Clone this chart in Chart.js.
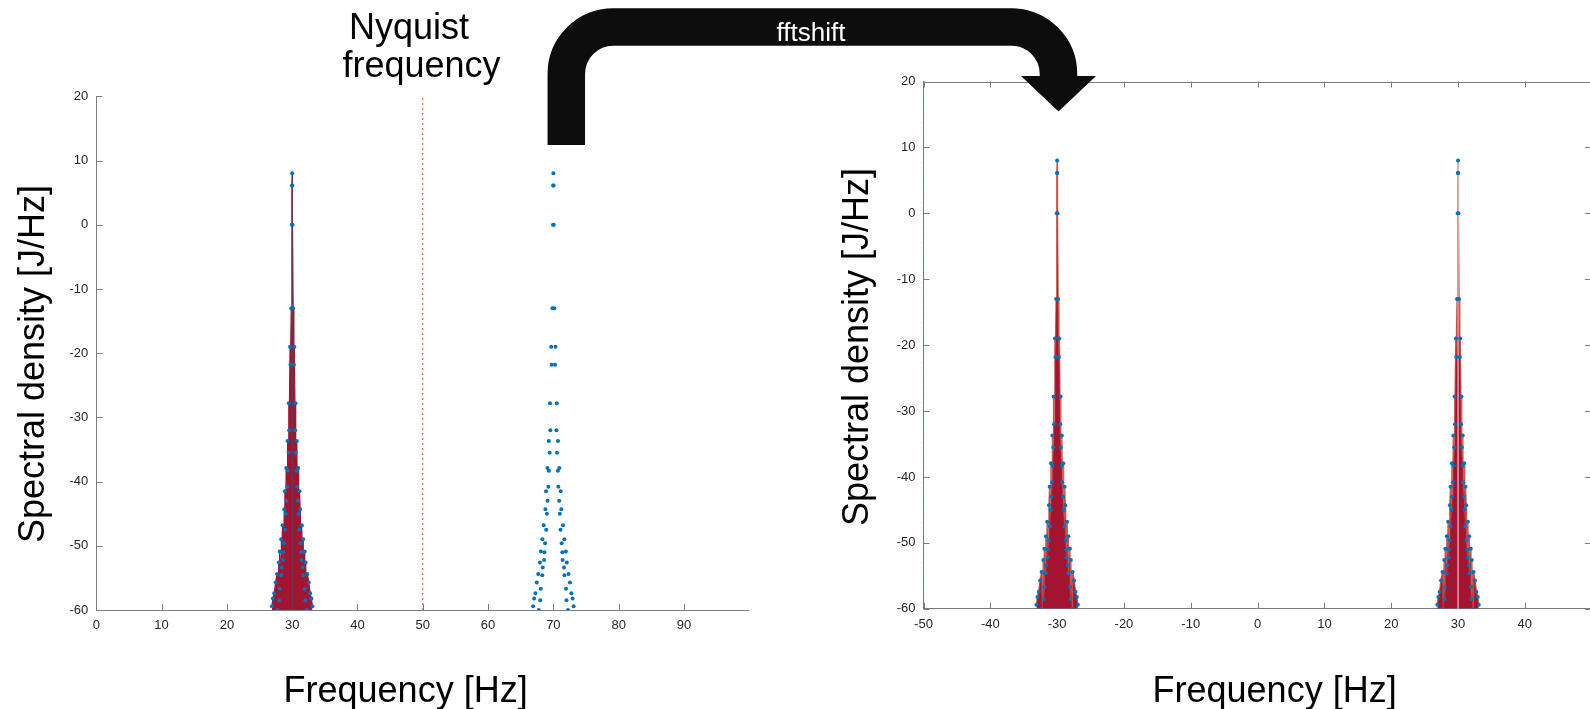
<!DOCTYPE html>
<html>
<head>
<meta charset="utf-8">
<title>fftshift</title>
<script src="https://cdn.jsdelivr.net/npm/chart.js@4.4.1/dist/chart.umd.min.js"></script>
<style>
  html, body { margin: 0; padding: 0; background: #fff; overflow: hidden; }
  #stage { position: relative; width: 1590px; height: 709px; overflow: hidden; background: #fff; }
  #stage canvas { position: absolute; top: 0; }
  #oneSided { left: 0; }
  #shifted { left: 800px; }
  #overlay { position: absolute; left: 0; top: 0; pointer-events: none; }
  #overlay text { font-family: 'Liberation Sans', Arial, Helvetica, sans-serif; }
</style>
</head>
<body>
<div id="stage">
  <canvas id="oneSided" width="800" height="709"></canvas>
  <canvas id="shifted" width="800" height="709"></canvas>
  <svg id="overlay" width="1590" height="709" viewBox="0 0 1590 709">
    <!-- bent arrow from the one-sided plot to the shifted plot -->
    <path d="M 566.3 145 L 566.3 74 A 47 47 0 0 1 613.3 27 L 1011.5 27 A 47 47 0 0 1 1058.5 74 L 1058.5 77"
          fill="none" stroke="#0d0d0d" stroke-width="37.5"/>
    <polygon points="1021,76 1096,76 1058.5,111.5" fill="#0d0d0d"/>
    <text x="811" y="40.5" font-size="26" fill="#fff" text-anchor="middle">fftshift</text>
    <text x="349" y="38.5" font-size="36" fill="#000">Nyquist</text>
    <text x="342.5" y="77" font-size="36" fill="#000">frequency</text>
    <!-- axis titles -->
    <text x="405.6" y="702" font-size="36" fill="#000" text-anchor="middle">Frequency [Hz]</text>
    <text x="1274.6" y="702" font-size="36" fill="#000" text-anchor="middle">Frequency [Hz]</text>
    <text x="44" y="364" font-size="36" fill="#000" text-anchor="middle" transform="rotate(-90 44 364)">Spectral density [J/Hz]</text>
    <text x="868" y="347" font-size="36" fill="#000" text-anchor="middle" transform="rotate(-90 868 347)">Spectral density [J/Hz]</text>
  </svg>
</div>
<script>
// Sampling setup
const sampleRate = 100;     // Hz
const freqStep = 0.1;       // Hz, bin spacing of the spectrum
const toneFreq = 30;        // Hz

// Tick labels
const levelTicks = [20, 10, 0, -10, -20, -30, -40, -50, -60];
const oneSidedTicks = [0, 10, 20, 30, 40, 50, 60, 70, 80, 90];
const shiftedTicks = [-50, -40, -30, -20, -10, 0, 10, 20, 30, 40];

// Samples of the tone's spectral peak above -60 dB:
// distance from the peak centre (Hz) and level (dB); the peak is symmetric
const peakOffsets = [0, 0.03, 0.06, 0.15, 0.26, 0.33, 0.46, 0.52, 0.56, 0.69, 0.71, 0.76,
  0.89, 0.92, 0.99, 1.10, 1.12, 1.22, 1.27, 1.37, 1.42, 1.48, 1.63, 1.68, 1.70, 1.91,
  1.93, 2.01, 2.06, 2.24, 2.32, 2.54, 2.75, 2.95, 3.10];
const peakLevels = [8.0, 6.1, 0.0, -13.0, -21.8, -19.0, -32.0, -27.8, -35.5, -38.3, -33.7, -40.8,
  -43.0, -37.9, -45.0, -47.5, -41.5, -44.3, -49.6, -51.0, -52.2, -46.8, -53.4, -49.0, -54.6, -50.9,
  -56.7, -58.5, -52.6, -60.0, -54.4, -55.7, -57.4, -58.2, -59.4];

const levelMin = -60, levelMax = 20;

const FONT = "'Liberation Sans', Arial, Helvetica, sans-serif";
const C_RED = '#A2142F', C_BLUE = '#0072BD', C_ORANGE = '#D95319';
const AXIS = '#7d7d7d', TEXT = '#262626';

// peak samples at a given centre frequency, sorted by frequency
function peakPoints(centre) {
  const lower = [];
  for (let i = peakOffsets.length - 1; i >= 1; i--) lower.push({ x: centre - peakOffsets[i], y: peakLevels[i] });
  const upper = peakOffsets.map((d, i) => ({ x: centre + d, y: peakLevels[i] }));
  return lower.concat(upper);
}

const tonePeak = peakPoints(toneFreq);                  // positive-frequency tone
const imagePeak = peakPoints(sampleRate - toneFreq);    // its mirror above Nyquist
const spectrum = tonePeak.concat(imagePeak);            // 0 … fs
const toShifted = p => ({ x: p.x >= sampleRate / 2 ? p.x - sampleRate : p.x, y: p.y });
const shiftedSpectrum = spectrum.map(toShifted);
const shiftedTone = tonePeak.map(toShifted);
const shiftedImage = imagePeak.map(toShifted);

// Inward tick marks (and optional box) drawn from the chart's own scales
const inwardTicks = {
  id: 'inwardTicks',
  beforeDatasetsDraw(chart, args, opts) {
    const { ctx, chartArea: a, scales: { x, y } } = chart;
    const len = opts.length || 6;
    const r = v => Math.round(v) + 0.5;
    ctx.save();
    ctx.strokeStyle = AXIS;
    ctx.lineWidth = 1;
    ctx.beginPath();
    x.ticks.forEach(t => {
      const px = r(x.getPixelForValue(t.value));
      ctx.moveTo(px, a.bottom); ctx.lineTo(px, a.bottom - len);
      if (opts.box) { ctx.moveTo(px, a.top); ctx.lineTo(px, a.top + len); }
    });
    y.ticks.forEach(t => {
      const py = r(y.getPixelForValue(t.value));
      ctx.moveTo(a.left, py); ctx.lineTo(a.left + len, py);
      if (opts.box) { ctx.moveTo(a.right, py); ctx.lineTo(a.right - len, py); }
    });
    if (opts.box) {
      ctx.moveTo(a.left, r(a.top)); ctx.lineTo(a.right, r(a.top));
      ctx.moveTo(r(a.right), a.top); ctx.lineTo(r(a.right), a.bottom);
    }
    ctx.stroke();
    ctx.restore();
  }
};

function axes(xMin, xMax, xTicks, area, canvasH) {
  return {
    x: {
      type: 'linear', position: 'bottom', min: xMin, max: xMax,
      grid: { display: false, drawTicks: false },
      border: { display: true, color: AXIS, width: 1 },
      ticks: { color: TEXT, font: { family: FONT, size: 13 }, padding: 8, maxRotation: 0, autoSkip: false },
      afterBuildTicks: s => { s.ticks = xTicks.map(v => ({ value: v })); },
      afterFit: s => { s.height = canvasH - area.bottom; }
    },
    y: {
      type: 'linear', position: 'left', min: levelMin, max: levelMax,
      grid: { display: false, drawTicks: false },
      border: { display: true, color: AXIS, width: 1 },
      ticks: { color: TEXT, font: { family: FONT, size: 13 }, padding: 8, autoSkip: false },
      afterBuildTicks: s => { s.ticks = levelTicks.map(v => ({ value: v })); },
      afterFit: s => { s.width = area.left; }
    }
  };
}

function baseOptions(area, canvasW, canvasH, xMin, xMax, xTicks, box) {
  return {
    responsive: false,
    animation: false,
    devicePixelRatio: 1,
    layout: { padding: { left: 0, top: area.top, right: canvasW - area.right, bottom: 0 } },
    plugins: { legend: { display: false }, tooltip: { enabled: false }, inwardTicks: { length: 6, box } },
    scales: axes(xMin, xMax, xTicks, area, canvasH),
    elements: { line: { tension: 0 } }
  };
}

const dots = data => ({
  type: 'scatter', data, order: 0, showLine: false,
  pointRadius: 2, pointBorderWidth: 0, pointBackgroundColor: C_BLUE, pointHoverRadius: 0
});
const peakFill = (data, border, width) => ({
  type: 'line', data, order: 3, fill: 'start',
  backgroundColor: C_RED, borderColor: border, borderWidth: width, pointRadius: 0
});
const vline = (xv, y0, y1, color, dash, order) => ({
  type: 'line', data: [{ x: xv, y: y0 }, { x: xv, y: y1 }], order,
  borderColor: color, borderWidth: 1, borderDash: dash, pointRadius: 0, fill: false, clip: 2
});

// One-sided view: line only below Nyquist, samples over the whole 0 … fs range
new Chart(document.getElementById('oneSided'), {
  type: 'scatter',
  data: {
    datasets: [
      dots(spectrum),
      peakFill(tonePeak, C_RED, 1.2),
      vline(toneFreq, levelMin, peakLevels[0], 'rgba(0,114,189,0.5)', [], 2),
      vline(sampleRate / 2, levelMin, levelMax, C_ORANGE, [2, 3], 1)
    ]
  },
  options: baseOptions({ left: 96.3, right: 748.6, top: 96.3, bottom: 610 }, 800, 709,
    0, sampleRate - freqStep, oneSidedTicks, false),
  plugins: [inwardTicks]
});

// Shifted view: zero frequency in the middle
new Chart(document.getElementById('shifted'), {
  type: 'scatter',
  data: {
    datasets: [
      dots(shiftedSpectrum),
      peakFill(shiftedImage, 'rgba(190,50,40,0.75)', 1.5),
      peakFill(shiftedTone, 'rgba(190,50,40,0.75)', 1.5),
      vline(toneFreq - sampleRate, levelMin, peakLevels[0], 'rgba(255,255,255,0.9)', [], 2),
      vline(toneFreq, levelMin, peakLevels[0], 'rgba(255,255,255,0.9)', [], 2),
      vline(-sampleRate / 2, levelMin, levelMax, C_ORANGE, [2, 3], 1)
    ]
  },
  options: baseOptions({ left: 123.5, right: 791, top: 81.5, bottom: 608.8 }, 800, 709,
    -sampleRate / 2, sampleRate / 2 - freqStep, shiftedTicks, true),
  plugins: [inwardTicks]
});
</script>
</body>
</html>
